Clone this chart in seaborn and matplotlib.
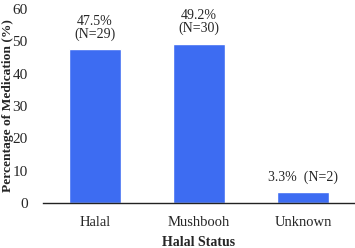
import matplotlib
matplotlib.use("Agg")
import matplotlib.pyplot as plt
import seaborn as sns
import pandas as pd

# data
status = ["Halal", "Mushbooh", "Unknown"]
percent = [47.5, 49.2, 3.3]
bar_labels = ["47.5%\n(N=29)", "49.2%\n(N=30)", "3.3%  (N=2)"]

df = pd.DataFrame({"Halal Status": status, "Percentage": percent})

sns.set_style("white")
plt.rcParams["font.family"] = ["Liberation Serif", "DejaVu Serif"]

fig = plt.figure(figsize=(3.55, 2.48), dpi=100)
ax = fig.add_axes([0.121, 0.181, 0.879, 0.783])

sns.barplot(data=df, x="Halal Status", y="Percentage", color="#3d6cf2",
            width=0.5, saturation=1, ax=ax)

for i, (v, lab) in enumerate(zip(percent, bar_labels)):
    ax.text(i, v + 2.6, lab, ha="center", va="bottom", fontsize=10,
            linespacing=0.95)

ax.set_ylim(0, 60)
ax.set_xlim(-0.5, 2.5)
ax.set_yticks([0, 10, 20, 30, 40, 50, 60])
ax.tick_params(axis="x", length=0, labelsize=10.5, pad=9)
ax.tick_params(axis="y", length=0, labelsize=11, pad=11)
ax.set_xlabel("Halal Status", fontsize=10, fontweight="bold")
ax.xaxis.set_label_coords(0.5, -0.168)
ax.set_ylabel("Percentage of Medication (%)", fontsize=9.7, fontweight="bold")
ax.yaxis.set_label_coords(-0.094, 0.5)
for s in ["top", "right", "left"]:
    ax.spines[s].set_visible(False)
ax.spines["bottom"].set_color("#222222")
ax.spines["bottom"].set_linewidth(1.0)

plt.savefig("out.png", dpi=100)
